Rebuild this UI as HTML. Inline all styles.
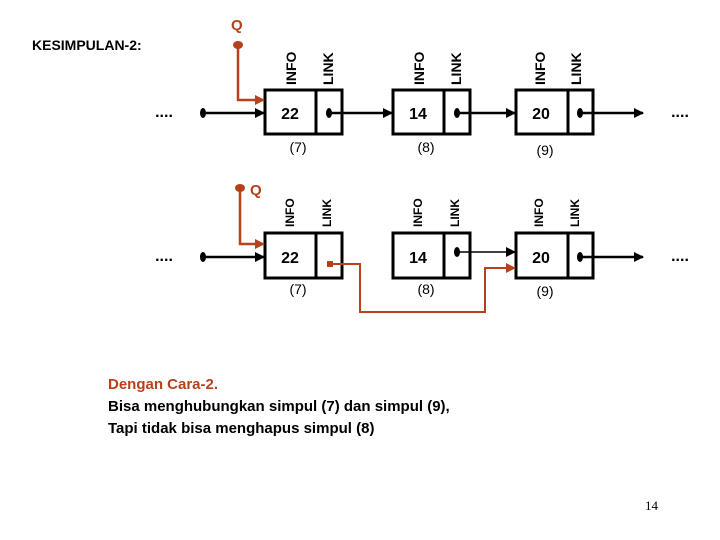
<!DOCTYPE html>
<html><head><meta charset="utf-8"><style>
body{margin:0;background:#fff;width:720px;height:540px;overflow:hidden;position:relative;font-family:"Liberation Sans",sans-serif}
.t{position:absolute;font-weight:bold;font-size:15px;line-height:22px;color:#000}
</style></head><body>
<svg width="720" height="540" style="position:absolute;left:0;top:0" font-family="Liberation Sans, sans-serif">
<defs>
<marker id="a" markerWidth="10" markerHeight="10" refX="9" refY="5" orient="auto" markerUnits="userSpaceOnUse"><path d="M0,0 L10,5 L0,10 z" fill="#000"/></marker>
<marker id="r" markerWidth="10" markerHeight="10" refX="9" refY="5" orient="auto" markerUnits="userSpaceOnUse"><path d="M0,0 L10,5 L0,10 z" fill="#b5421c"/></marker>
</defs>
<text x="32" y="50" font-size="14" font-weight="bold" fill="#000">KESIMPULAN-2:</text>
<g stroke="#000" stroke-width="3" fill="none">
<rect x="265" y="90" width="77" height="44"/><line x1="316" y1="90" x2="316" y2="134"/>
<rect x="393" y="90" width="77" height="44"/><line x1="444" y1="90" x2="444" y2="134"/>
<rect x="516" y="90" width="77" height="44"/><line x1="568" y1="90" x2="568" y2="134"/>
<rect x="265" y="233" width="77" height="45"/><line x1="316" y1="233" x2="316" y2="278"/>
<rect x="393" y="233" width="77" height="45"/><line x1="444" y1="233" x2="444" y2="278"/>
<rect x="516" y="233" width="77" height="45"/><line x1="568" y1="233" x2="568" y2="278"/>
</g>
<g stroke="#000" stroke-width="2.5">
<line x1="203" y1="113" x2="264" y2="113" marker-end="url(#a)"/>
<line x1="329" y1="113" x2="392" y2="113" marker-end="url(#a)"/>
<line x1="457" y1="113" x2="515" y2="113" marker-end="url(#a)"/>
<line x1="580" y1="113" x2="643" y2="113" marker-end="url(#a)"/>
<line x1="203" y1="257" x2="264" y2="257" marker-end="url(#a)"/>
<line x1="457" y1="252" x2="515" y2="252" stroke-width="1.5" marker-end="url(#a)"/>
<line x1="580" y1="257" x2="643" y2="257" marker-end="url(#a)"/>
</g>
<g fill="#000">
<ellipse cx="203" cy="113" rx="3" ry="5"/><ellipse cx="329" cy="113" rx="3" ry="5"/><ellipse cx="457" cy="113" rx="3" ry="5"/><ellipse cx="580" cy="113" rx="3" ry="5"/>
<ellipse cx="203" cy="257" rx="3" ry="5"/><ellipse cx="457" cy="252" rx="3" ry="5"/><ellipse cx="580" cy="257" rx="3" ry="5"/>
</g>
<g stroke="#b5421c" stroke-width="2.5" fill="none">
<polyline points="238,45 238,100 264,100" marker-end="url(#r)"/>
<polyline points="240,188 240,244 264,244" marker-end="url(#r)"/>
<polyline points="330,264 360,264 360,312 485,312 485,268 515,268" stroke-width="2" marker-end="url(#r)"/>
</g>
<g fill="#b5421c">
<ellipse cx="238" cy="45" rx="5" ry="4"/><ellipse cx="240" cy="188" rx="5" ry="4"/><rect x="327" y="261" width="6" height="6"/>
</g>
<g font-size="15" font-weight="bold" fill="#b5421c">
<text x="231" y="30">Q</text><text x="250" y="195">Q</text>
</g>
<g font-size="16" font-weight="bold" fill="#000" text-anchor="middle">
<text x="290" y="119">22</text><text x="418" y="119">14</text><text x="541" y="119">20</text>
<text x="290" y="263">22</text><text x="418" y="263">14</text><text x="541" y="263">20</text>
</g>
<g font-size="16" font-weight="bold" fill="#000" text-anchor="middle">
<text x="164" y="117">....</text><text x="680" y="117">....</text>
<text x="164" y="261">....</text><text x="680" y="261">....</text>
</g>
<g font-size="14" fill="#000" text-anchor="middle">
<text x="298" y="152">(7)</text><text x="426" y="152">(8)</text><text x="545" y="155">(9)</text>
<text x="298" y="294">(7)</text><text x="426" y="294">(8)</text><text x="545" y="296">(9)</text>
</g>
<g font-size="14" font-weight="bold" fill="#000">
<text transform="translate(296,85) rotate(-90)">INFO</text>
<text transform="translate(333,85) rotate(-90)">LINK</text>
<text transform="translate(424,85) rotate(-90)">INFO</text>
<text transform="translate(461,85) rotate(-90)">LINK</text>
<text transform="translate(545,85) rotate(-90)">INFO</text>
<text transform="translate(581,85) rotate(-90)">LINK</text>
</g>
<g font-size="12" font-weight="bold" fill="#000">
<text transform="translate(294,227) rotate(-90)">INFO</text>
<text transform="translate(331,227) rotate(-90)">LINK</text>
<text transform="translate(422,227) rotate(-90)">INFO</text>
<text transform="translate(459,227) rotate(-90)">LINK</text>
<text transform="translate(543,227) rotate(-90)">INFO</text>
<text transform="translate(579,227) rotate(-90)">LINK</text>
</g>
<text x="645" y="510" font-size="13" font-family="Liberation Serif, serif" fill="#000">14</text>
</svg>
<div class="t" style="left:108px;top:374px"><span style="color:#b5421c">Dengan Cara-2.</span><br>Bisa menghubungkan simpul (7) dan simpul (9),<br>Tapi tidak bisa menghapus simpul (8)</div>
</body></html>
